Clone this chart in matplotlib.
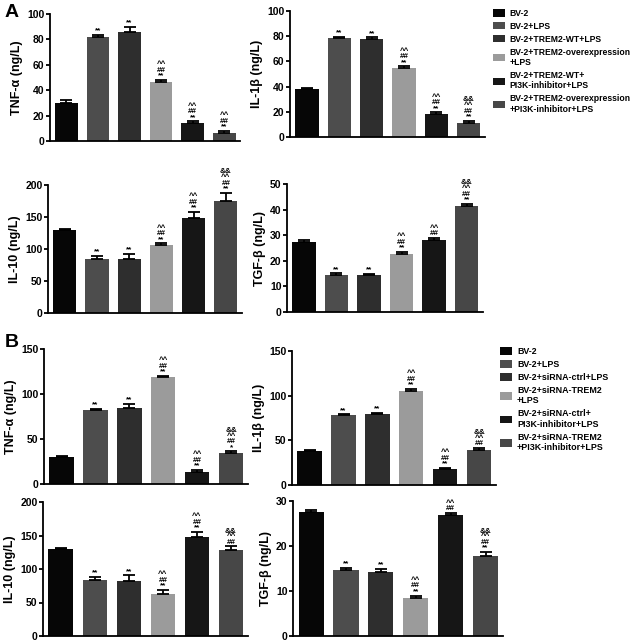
import matplotlib
matplotlib.use("Agg")
import matplotlib.pyplot as plt
from matplotlib.patches import Patch

plt.rcParams.update({
    "font.family": ["Liberation Sans", "DejaVu Sans"],
    "font.weight": "bold", "axes.labelweight": "bold",
    "axes.linewidth": 1.3, "xtick.major.width": 1.3, "ytick.major.width": 1.3,
})

COLORS = ["#060606", "#4d4d4d", "#2e2e2e", "#9b9b9b", "#161616", "#474747"]

legend_a = ["BV-2", "BV-2+LPS", "BV-2+TREM2-WT+LPS",
            "BV-2+TREM2-overexpression\n+LPS", "BV-2+TREM2-WT+\nPI3K-inhibitor+LPS",
            "BV-2+TREM2-overexpression\n+PI3K-inhibitor+LPS"]
legend_b = ["BV-2", "BV-2+LPS", "BV-2+siRNA-ctrl+LPS",
            "BV-2+siRNA-TREM2\n+LPS", "BV-2+siRNA-ctrl+\nPI3K-inhibitor+LPS",
            "BV-2+siRNA-TREM2\n+PI3K-inhibitor+LPS"]

# panel A
a_tnf = [30, 82, 86, 46.5, 14.3, 6];      a_tnf_err = [2, 1.5, 4, 1.5, 1.3, 2]
a_il1 = [38, 78.5, 78, 54.5, 18, 11];     a_il1_err = [1, 1, 1, 1.5, 1.5, 2]
a_il10 = [130, 84, 84, 107, 149, 175];    a_il10_err = [1.5, 5, 8, 2, 9, 13]
a_tgf = [27.5, 14.6, 14.4, 22.5, 28.3, 41.3]; a_tgf_err = [0.6, 0.5, 0.5, 1, 0.7, 1]
# panel B
b_tnf = [30, 82, 85, 119, 13.7, 34.8];    b_tnf_err = [1.5, 1.5, 4, 1.5, 2, 1.5]
b_il1 = [38, 78, 79.5, 105.5, 17.4, 39.7]; b_il1_err = [1, 1.2, 1.5, 2, 1.5, 2]
b_il10 = [129.5, 83.6, 82.5, 62, 148, 128]; b_il10_err = [1.5, 5, 8, 7, 7.5, 6]
b_tgf = [27.5, 14.6, 14.2, 8.4, 27.0, 17.8]; b_tgf_err = [0.5, 0.5, 0.7, 0.6, 0.4, 0.9]

# significance marks, bottom to top
S3 = ["**", "##", "^^"]
a_tnf_sig = [[], ["**"], ["**"], S3, S3, S3]
a_il1_sig = [[], ["**"], ["**"], S3, S3, S3 + ["&&"]]
a_il10_sig = [[], ["**"], ["**"], S3, S3, S3 + ["&&"]]
a_tgf_sig = [[], ["**"], ["**"], S3, ["##", "^^"], S3 + ["&&"]]
b_tnf_sig = [[], ["**"], ["**"], S3, S3, ["*", "##", "^^", "&&"]]
b_il1_sig = [[], ["**"], ["**"], S3, S3, ["##", "^^", "&&"]]
b_il10_sig = [[], ["**"], ["**"], S3, S3, ["##", "^^", "&&"]]
b_tgf_sig = [[], ["**"], ["**"], S3, ["##", "^^"], S3 + ["&&"]]

W, H = 633, 642
def px_axes(fig, x0, x1, y0, y1):
    return fig.add_axes([x0 / W, 1 - y1 / H, (x1 - x0) / W, (y1 - y0) / H])

def bar_panel(ax, vals, errs, sigs, ylabel, ymax, step):
    x = range(len(vals))
    ax.bar(x, vals, width=0.72, color=COLORS)
    ax.errorbar(x, vals, yerr=[[0] * len(vals), errs], fmt="none", ecolor="black",
                elinewidth=1.3, capsize=4.2, capthick=1.3)
    for i, (v, e, s) in enumerate(zip(vals, errs, sigs)):
        if s:
            ax.annotate("\n".join(reversed(s)), (i, v + e), xytext=(0, 0.3),
                        textcoords="offset points", ha="center", va="bottom",
                        fontsize=5.8, fontweight="bold", linespacing=0.72)
    ax.set_xlim(-0.52, len(vals) - 0.5)
    ax.set_ylim(0, ymax)
    ax.set_yticks(range(0, ymax + 1, step))
    ax.spines["top"].set_visible(False)
    ax.spines["right"].set_visible(False)
    ax.set_xticks([])
    ax.tick_params(axis="y", labelsize=7.5, length=3, pad=1)
    ax.set_ylabel(ylabel, fontsize=9, labelpad=3)

fig = plt.figure(figsize=(W / 100, H / 100), dpi=100)

bar_panel(px_axes(fig, 50, 240, 14, 141), a_tnf, a_tnf_err, a_tnf_sig, "TNF-α (ng/L)", 100, 20)
bar_panel(px_axes(fig, 290, 485, 11, 137), a_il1, a_il1_err, a_il1_sig, "IL-1β (ng/L)", 100, 20)
bar_panel(px_axes(fig, 48, 242, 185, 313), a_il10, a_il10_err, a_il10_sig, "IL-10 (ng/L)", 200, 50)
bar_panel(px_axes(fig, 287, 483, 184, 312), a_tgf, a_tgf_err, a_tgf_sig, "TGF-β (ng/L)", 50, 10)
bar_panel(px_axes(fig, 44, 248, 349, 484), b_tnf, b_tnf_err, b_tnf_sig, "TNF-α (ng/L)", 150, 50)
bar_panel(px_axes(fig, 292, 496, 351, 485), b_il1, b_il1_err, b_il1_sig, "IL-1β (ng/L)", 150, 50)
bar_panel(px_axes(fig, 43, 248, 502, 636), b_il10, b_il10_err, b_il10_sig, "IL-10 (ng/L)", 200, 50)
bar_panel(px_axes(fig, 293, 503, 501, 636), b_tgf, b_tgf_err, b_tgf_sig, "TGF-β (ng/L)", 30, 10)

for labels, xy, fs in ((legend_a, (493, 9), 6.2), (legend_b, (500, 347), 6.4)):
    handles = [Patch(facecolor=c, edgecolor="none") for c in COLORS]
    fig.legend(handles, labels, loc="upper left", bbox_to_anchor=(xy[0] / W, 1 - xy[1] / H),
               frameon=False, fontsize=fs, handlelength=1.4, handleheight=0.9,
               handletextpad=0.5, labelspacing=0.45, borderaxespad=0, borderpad=0)

fig.text(5 / W, 1 - 4 / H, "A", fontsize=14, fontweight="bold", va="top")
fig.text(5 / W, 1 - 334 / H, "B", fontsize=14, fontweight="bold", va="top")

fig.savefig("out.png", dpi=100)
